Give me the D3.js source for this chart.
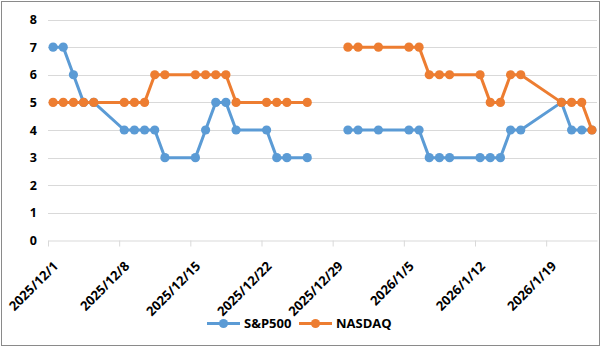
<!DOCTYPE html>
<html><head><meta charset="utf-8">
<script src="https://cdn.jsdelivr.net/npm/d3@7"></script>
<style>body{margin:0;background:#fff}svg{display:block}</style>
</head><body>
<svg id="c" width="602" height="349"></svg>
<script>
const dates = ["2025-12-01","2025-12-02","2025-12-03","2025-12-04","2025-12-05",
  "2025-12-08","2025-12-09","2025-12-10","2025-12-11","2025-12-12",
  "2025-12-15","2025-12-16","2025-12-17","2025-12-18","2025-12-19",
  "2025-12-22","2025-12-23","2025-12-24","2025-12-26","2025-12-29",
  "2025-12-30","2025-12-31","2026-01-02",
  "2026-01-05","2026-01-06","2026-01-07","2026-01-08","2026-01-09",
  "2026-01-12","2026-01-13","2026-01-14","2026-01-15","2026-01-16",
  "2026-01-20","2026-01-21","2026-01-22","2026-01-23"];
const sp500 = [7,7,6,5,5, 4,4,4,4,3, 3,4,5,5,4, 4,3,3,3,null, 4,4,4, 4,4,3,3,3, 3,3,3,4,4, 5,4,4,4];
const nasdaq = [5,5,5,5,5, 5,5,5,6,6, 6,6,6,6,5, 5,5,5,5,null, 7,7,7, 7,7,6,6,6, 6,5,5,6,6, 5,5,5,4];
const tickLabels = ["2025/12/1","2025/12/8","2025/12/15","2025/12/22","2025/12/29","2026/1/5","2026/1/12","2026/1/19"];
const yTicks = [0,1,2,3,4,5,6,7,8];
const seriesNames = ["S&P500","NASDAQ"];
const colors = ["#5B9BD5","#ED7D31"];

const parse = d3.timeParse("%Y-%m-%d");
const pd = dates.map(parse);
const svg = d3.select("#c");
const font = "'Open Sans', 'Liberation Sans', sans-serif";

svg.append("rect").attr("x",1.5).attr("y",1.5).attr("width",598).attr("height",344)
  .attr("fill","#fff").attr("stroke","#8a8a8a").attr("stroke-width",1);

const x = d3.scaleTime().domain([parse("2025-12-01"), parse("2026-01-24")]).range([48, 597]);
const y = d3.scaleLinear().domain([0,8]).range([240.5, 19.5]);

// gridlines
svg.append("g").selectAll("line").data(yTicks.slice(1)).join("line")
  .attr("x1",48).attr("x2",597).attr("y1",d=>Math.round(y(d))+0.5).attr("y2",d=>Math.round(y(d))+0.5)
  .attr("stroke","#d9d9d9").attr("stroke-width",1);

// y labels
svg.append("g").selectAll("text").data(yTicks).join("text")
  .attr("x",37).attr("y",d=>y(d)+4.5).attr("text-anchor","end")
  .attr("font-family",font).attr("font-weight","bold").attr("font-size",12.5).attr("fill","#000")
  .text(d=>d);

// x axis
const tickDates = tickLabels.map(d3.timeParse("%Y/%m/%d"));
const xAxis = d3.axisBottom(x).tickValues(tickDates).tickSize(6).tickSizeOuter(0).tickFormat("");
const gx = svg.append("g").attr("transform","translate(0,240.5)").call(xAxis);
gx.select(".domain").attr("stroke","#d9d9d9");
gx.selectAll(".tick line").attr("stroke","#d9d9d9");

svg.append("g").selectAll("text").data(tickDates).join("text")
  .attr("text-anchor","end")
  .attr("transform",(d)=>`translate(${x(d)+11},267) rotate(-45)`)
  .attr("font-family",font).attr("font-weight","bold").attr("font-size",13).attr("fill","#000")
  .text((d,i)=>tickLabels[i]);

// series
const half = d => d3.timeHour.offset(d, 12);
[sp500, nasdaq].forEach((vals, si) => {
  const pts = pd.map((d,i)=>({d, v: vals[i]}));
  const line = d3.line().defined(p=>p.v!=null).x(p=>x(half(p.d))).y(p=>y(p.v));
  const g = svg.append("g");
  g.append("path").datum(pts).attr("d",line).attr("fill","none")
    .attr("stroke",colors[si]).attr("stroke-width",3).attr("stroke-linejoin","round");
  g.selectAll("circle").data(pts.filter(p=>p.v!=null)).join("circle")
    .attr("cx",p=>x(half(p.d))).attr("cy",p=>y(p.v)).attr("r",4.6).attr("fill",colors[si]);
});

// legend
const lg = svg.append("g");
const legendX = [207, 299];
seriesNames.forEach((n,i)=>{
  const lx = legendX[i];
  lg.append("line").attr("x1",lx).attr("x2",lx+33).attr("y1",323.5).attr("y2",323.5)
    .attr("stroke",colors[i]).attr("stroke-width",3);
  lg.append("circle").attr("cx",lx+16.5).attr("cy",323.5).attr("r",4.6).attr("fill",colors[i]);
  lg.append("text").attr("x",lx+37).attr("y",328).attr("font-family",font)
    .attr("font-weight","bold").attr("font-size",13).attr("fill","#000").text(n);
});
</script>
</body></html>
